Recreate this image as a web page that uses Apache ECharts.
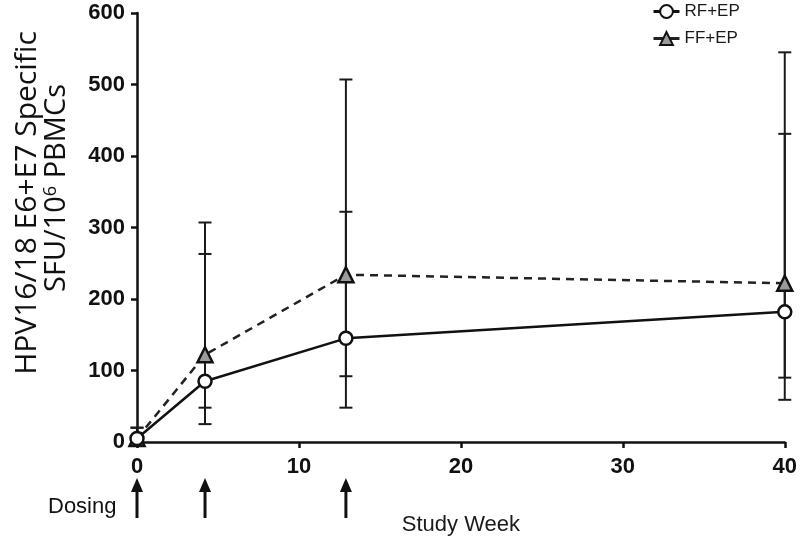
<!DOCTYPE html>
<html><head><meta charset="utf-8">
<script src="https://cdn.jsdelivr.net/npm/echarts@6/dist/echarts.min.js"></script>
<style>html,body{margin:0;padding:0;background:#fff}#c{width:800px;height:547px}</style>
</head><body><div id="c"></div>
<script>
const weeks = [0, 4.2, 12.9, 40];
const rfMean = [5, 85, 145, 182];
const rfLow = [0, 25, 48, 59];
const rfHigh = [20, 263, 322, 431];
const ffMean = [5, 122, 234, 222];
const ffLow = [0, 48, 92, 90];
const ffHigh = [20, 307, 507, 545];
const dosingWeeks = [0, 4.2, 12.9];
const xTicks = [0, 10, 20, 30, 40];
const yTicks = [0, 100, 200, 300, 400, 500, 600];

const chart = echarts.init(document.getElementById('c'));

function errData(low, high) { return weeks.map((w, i) => [w, low[i], high[i]]); }
function errRender(params, api) {
  const x = api.value(0);
  const lo = api.coord([x, api.value(1)]);
  const hi = api.coord([x, api.value(2)]);
  const cw = 6.5;
  const st = { stroke: '#1a1a1a', lineWidth: 2 };
  return { type: 'group', children: [
    { type: 'line', shape: { x1: lo[0], y1: lo[1], x2: hi[0], y2: hi[1] }, style: st },
    { type: 'line', shape: { x1: lo[0] - cw, y1: lo[1], x2: lo[0] + cw, y2: lo[1] }, style: st },
    { type: 'line', shape: { x1: hi[0] - cw, y1: hi[1], x2: hi[0] + cw, y2: hi[1] }, style: st }
  ]};
}

chart.setOption({
  animation: false,
  backgroundColor: '#fff',
  grid: { left: 137, right: 15, top: 13, bottom: 105, containLabel: false },
  legend: {
    orient: 'vertical', left: 647, top: -2, itemWidth: 26, itemHeight: 16, itemGap: 10,
    data: ['RF+EP', 'FF+EP'],
    textStyle: { fontFamily: 'Liberation Sans', fontSize: 17, color: '#1a1a1a' },
    lineStyle: { type: 'solid', width: 3 }
  },
  xAxis: {
    type: 'value', min: 0, max: 40, interval: 10,
    name: 'Study Week', nameLocation: 'middle', nameGap: 72,
    nameTextStyle: { fontFamily: 'Liberation Sans', fontSize: 22, color: '#1a1a1a' },
    axisLine: { lineStyle: { color: '#111', width: 2.5 } },
    axisTick: { length: 6, lineStyle: { color: '#111', width: 2.5 } },
    axisLabel: { margin: 14, fontFamily: 'Liberation Sans', fontWeight: 'bold', fontSize: 22, color: '#111',
      formatter: v => xTicks.includes(v) ? String(v) : '' },
    splitLine: { show: false }
  },
  yAxis: {
    type: 'value', min: 0, max: 600, interval: 100,
    axisLine: { show: true, lineStyle: { color: '#111', width: 2.5 } },
    axisTick: { show: true, length: 6, lineStyle: { color: '#111', width: 2.5 } },
    axisLabel: { margin: 12, fontFamily: 'Liberation Sans', fontWeight: 'bold', fontSize: 22, color: '#111',
      formatter: v => yTicks.includes(v) ? String(v) : '' },
    splitLine: { show: false }
  },
  graphic: [
    { type: 'text', x: 27, y: 203, rotation: Math.PI / 2, z: 10,
      style: { text: 'HPV16/18 E6+E7 Specific', font: '30px "Open Sans"', fill: '#111', align: 'center', verticalAlign: 'middle' } },
    { type: 'text', x: 57, y: 188, rotation: Math.PI / 2, z: 10,
      style: { text: 'SFU/10{s|6} PBMCs', font: '29px "Open Sans"', fill: '#111', align: 'center', verticalAlign: 'middle',
        rich: { s: { fontSize: 18, fontFamily: 'Open Sans', verticalAlign: 'top', padding: [0, 0, 12, 0] } } } },
    { type: 'text', left: 48, top: 496, style: { text: 'Dosing', font: '22px "Liberation Sans"', fill: '#111' } }
  ],
  series: [
    { name: 'RF+EP err', type: 'custom', renderItem: errRender, data: errData(rfLow, rfHigh), encode: { x: 0, y: [1, 2] }, z: 1, silent: true },
    { name: 'FF+EP err', type: 'custom', renderItem: errRender, data: errData(ffLow, ffHigh), encode: { x: 0, y: [1, 2] }, z: 1, silent: true },
    { name: 'RF+EP', type: 'line', data: weeks.map((w, i) => [w, rfMean[i]]), z: 3,
      symbol: 'circle', symbolSize: 13, showAllSymbol: true,
      lineStyle: { color: '#111', width: 2.5 },
      itemStyle: { color: '#fff', borderColor: '#111', borderWidth: 2.5 } },
    { name: 'FF+EP', type: 'line', data: weeks.map((w, i) => [w, ffMean[i]]), z: 2,
      symbol: 'triangle', symbolSize: 15, showAllSymbol: true,
      lineStyle: { color: '#222', width: 2.5, type: [8, 6] },
      itemStyle: { color: '#9a9a9a', borderColor: '#111', borderWidth: 2.5 } },
    { name: 'dosing', type: 'custom', clip: false, silent: true, data: dosingWeeks.map(w => [w, 0]), encode: { x: 0, y: 1 },
      renderItem: function (params, api) {
        const p = api.coord([api.value(0), 0]);
        const x = p[0], top = p[1] + 36, bot = p[1] + 76;
        return { type: 'group', children: [
          { type: 'line', shape: { x1: x, y1: top + 10, x2: x, y2: bot }, style: { stroke: '#111', lineWidth: 3 } },
          { type: 'polygon', shape: { points: [[x, top], [x - 6, top + 14], [x + 6, top + 14]] }, style: { fill: '#111' } }
        ]};
      } }
  ]
});
</script></body></html>
